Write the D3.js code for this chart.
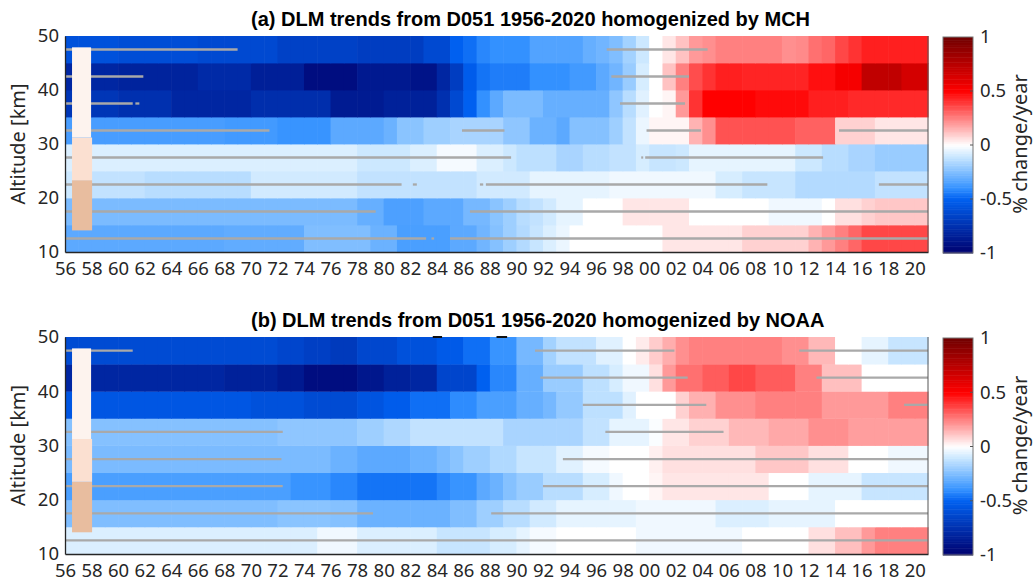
<!DOCTYPE html>
<html>
<head>
<meta charset="utf-8">
<title>DLM trends D051</title>
<script src="https://cdnjs.cloudflare.com/ajax/libs/d3/7.8.5/d3.min.js"></script>
<style>
    body { margin: 0; background: #fff; }
    text { font-family: 'Noto Sans', 'Open Sans', sans-serif; fill: #262626; }
    .title { font-family: 'Liberation Sans', Arial, sans-serif; font-weight: bold; fill: #000; }
</style>
</head>
<body>
<div id="chart"></div>
<script>
// years 1956..2020, one column per year
const years = d3.range(1956, 2021);
// layer centres in km (each layer is 5 km thick)
const layers = [12.5, 17.5, 22.5, 27.5, 32.5, 37.5, 42.5, 47.5];

// (a) homogenized by MCH, % change/year, one array per layer
const mch12 = [-0.32,-0.32,-0.32,-0.32,-0.32,-0.32,-0.32,-0.32,-0.32,-0.32,-0.32,-0.32,-0.31,-0.31,-0.31,-0.31,-0.31,-0.31,-0.25,-0.25,-0.25,-0.25,-0.25,-0.29,-0.29,-0.355,-0.355,-0.355,-0.355,-0.32,-0.32,-0.28,-0.24,-0.19,-0.15,-0.11,-0.07,-0.04,0,0,0,0,0,0,
    0,0.05,0.05,0.05,0.05,0.05,0.05,0.09,0.09,0.09,0.09,0.09,0.15,0.2,0.25,0.3,0.36,0.36,0.36,0.36,0.36];
const mch17 = [-0.26,-0.26,-0.26,-0.26,-0.26,-0.26,-0.26,-0.26,-0.26,-0.26,-0.26,-0.26,-0.26,-0.26,-0.26,-0.26,-0.26,-0.26,-0.26,-0.26,-0.26,-0.26,-0.3,-0.3,-0.35,-0.35,-0.35,-0.32,-0.32,-0.32,-0.27,-0.27,-0.23,-0.19,-0.14,-0.12,-0.09,-0.05,-0.05,0,0,0,0.05,0.05,
    0.05,0.05,0.05,0,0,0,0,0,0,-0.03,-0.03,-0.03,-0.03,0,0.06,0.06,0.09,0.11,0.11,0.11,0.11];
const mch22 = [-0.1,-0.1,-0.12,-0.12,-0.12,-0.12,-0.14,-0.14,-0.14,-0.14,-0.14,-0.14,-0.14,-0.14,-0.09,-0.09,-0.09,-0.09,-0.09,-0.09,-0.09,-0.09,-0.12,-0.12,-0.12,-0.12,-0.12,-0.12,-0.12,-0.12,-0.12,-0.09,-0.09,-0.09,-0.09,-0.05,-0.05,-0.05,-0.05,-0.05,-0.05,-0.03,-0.03,-0.03,
    -0.03,-0.03,-0.03,-0.03,-0.03,-0.08,-0.08,-0.11,-0.11,-0.11,-0.11,-0.15,-0.15,-0.15,-0.15,-0.15,-0.15,-0.12,-0.12,-0.12,-0.12];
const mch27 = [-0.07,-0.07,-0.07,-0.07,-0.07,-0.07,-0.07,-0.07,-0.07,-0.07,-0.07,-0.07,-0.07,-0.07,-0.07,-0.07,-0.07,-0.07,-0.07,-0.07,-0.07,-0.07,-0.1,-0.1,-0.1,-0.1,-0.07,-0.07,-0.02,-0.02,-0.02,-0.07,-0.07,-0.1,-0.13,-0.13,-0.13,-0.17,-0.17,-0.14,-0.14,-0.12,-0.12,-0.08,
    -0.11,-0.11,-0.1,-0.05,-0.05,-0.05,-0.05,-0.05,-0.05,-0.05,-0.05,-0.1,-0.1,-0.14,-0.14,-0.17,-0.17,-0.2,-0.2,-0.2,-0.2];
const mch32 = [-0.36,-0.36,-0.36,-0.36,-0.36,-0.36,-0.36,-0.36,-0.36,-0.36,-0.36,-0.36,-0.37,-0.37,-0.37,-0.37,-0.39,-0.39,-0.39,-0.39,-0.32,-0.32,-0.32,-0.32,-0.29,-0.23,-0.23,-0.19,-0.19,-0.17,-0.17,-0.17,-0.17,-0.22,-0.22,-0.29,-0.29,-0.32,-0.24,-0.24,-0.24,-0.19,-0.12,-0.04,
    0.02,0.02,0.02,0.15,0.22,0.34,0.34,0.34,0.34,0.34,0.34,0.31,0.31,0.31,0.09,0.09,0.09,0.05,0.05,0.05,0.05];
const mch37 = [-0.72,-0.72,-0.72,-0.72,-0.75,-0.75,-0.75,-0.75,-0.8,-0.8,-0.8,-0.8,-0.8,-0.8,-0.76,-0.76,-0.76,-0.76,-0.76,-0.76,-0.86,-0.86,-0.86,-0.86,-0.83,-0.83,-0.83,-0.83,-0.75,-0.62,-0.5,-0.4,-0.32,-0.26,-0.26,-0.26,-0.3,-0.3,-0.3,-0.3,-0.3,-0.22,-0.14,-0.06,
    0,0.02,0.2,0.4,0.5,0.5,0.5,0.5,0.48,0.48,0.48,0.48,0.44,0.44,0.44,0.42,0.42,0.42,0.42,0.42,0.42];
const mch42 = [-0.8,-0.8,-0.8,-0.8,-0.82,-0.82,-0.82,-0.82,-0.82,-0.82,-0.78,-0.78,-0.78,-0.78,-0.84,-0.84,-0.84,-0.84,-0.93,-0.93,-0.93,-0.93,-0.87,-0.87,-0.87,-0.87,-0.9,-0.9,-0.8,-0.68,-0.52,-0.46,-0.44,-0.44,-0.44,-0.4,-0.4,-0.4,-0.37,-0.37,-0.32,-0.28,-0.2,-0.08,
    0,0.12,0.25,0.35,0.4,0.44,0.44,0.43,0.43,0.43,0.43,0.43,0.47,0.47,0.53,0.53,0.72,0.72,0.72,0.65,0.65];
const mch47 = [-0.58,-0.58,-0.58,-0.58,-0.6,-0.6,-0.6,-0.6,-0.6,-0.6,-0.62,-0.62,-0.62,-0.62,-0.62,-0.62,-0.66,-0.66,-0.66,-0.66,-0.66,-0.66,-0.68,-0.68,-0.68,-0.68,-0.68,-0.62,-0.62,-0.5,-0.47,-0.42,-0.4,-0.4,-0.4,-0.34,-0.34,-0.34,-0.34,-0.3,-0.28,-0.25,-0.18,-0.1,
    0,0.05,0.12,0.2,0.22,0.25,0.25,0.25,0.25,0.25,0.22,0.23,0.28,0.3,0.36,0.4,0.44,0.44,0.44,0.44,0.44];

// (b) homogenized by NOAA
const noaa12 = [-0.07,-0.07,-0.07,-0.07,-0.07,-0.07,-0.07,-0.07,-0.07,-0.07,-0.07,-0.07,-0.07,-0.07,-0.07,-0.07,-0.07,-0.07,-0.07,-0.03,-0.03,-0.03,-0.07,-0.07,-0.07,-0.07,-0.07,-0.07,-0.11,-0.11,-0.11,-0.11,-0.08,-0.08,-0.05,-0.02,-0.02,0,0,0,0,0,0,-0.03,
    -0.03,-0.03,-0.03,-0.03,-0.03,-0.03,-0.03,0,0,0,0,0,0.06,0.06,0.125,0.125,0.2,0.25,0.25,0.25,0.25];
const noaa17 = [-0.25,-0.25,-0.25,-0.25,-0.25,-0.25,-0.25,-0.25,-0.25,-0.25,-0.25,-0.25,-0.25,-0.25,-0.25,-0.25,-0.23,-0.23,-0.23,-0.23,-0.24,-0.24,-0.29,-0.29,-0.29,-0.29,-0.29,-0.29,-0.29,-0.25,-0.25,-0.19,-0.19,-0.14,-0.14,-0.09,-0.09,-0.05,-0.05,-0.05,-0.05,-0.05,-0.05,-0.03,
    -0.03,-0.03,-0.03,-0.03,-0.03,-0.07,-0.07,-0.07,-0.07,-0.05,-0.05,-0.05,-0.05,-0.05,0,0,0,0,0,0,0];
const noaa22 = [-0.355,-0.355,-0.355,-0.355,-0.355,-0.355,-0.355,-0.355,-0.355,-0.355,-0.355,-0.355,-0.355,-0.355,-0.355,-0.355,-0.355,-0.39,-0.39,-0.39,-0.42,-0.42,-0.46,-0.46,-0.46,-0.46,-0.46,-0.46,-0.42,-0.39,-0.39,-0.32,-0.29,-0.24,-0.2,-0.2,-0.14,-0.14,-0.14,-0.08,-0.08,-0.03,0,0,
    0.02,0.05,0.05,0.05,0.05,0.05,0.05,0.05,0.05,0,0,0,-0.05,-0.05,-0.05,-0.05,-0.11,-0.11,-0.11,-0.11,-0.11];
const noaa27 = [-0.26,-0.26,-0.26,-0.26,-0.26,-0.26,-0.26,-0.26,-0.26,-0.26,-0.26,-0.26,-0.26,-0.26,-0.26,-0.26,-0.26,-0.26,-0.26,-0.26,-0.29,-0.29,-0.32,-0.32,-0.32,-0.32,-0.29,-0.29,-0.26,-0.23,-0.19,-0.19,-0.155,-0.155,-0.11,-0.11,-0.11,-0.06,-0.06,-0.02,-0.02,0,0,0,
    0.03,0.06,0.06,0.06,0.06,0.06,0.06,0.06,0.11,0.11,0.11,0.11,0.06,0.06,0.06,0,0,0,-0.03,-0.03,-0.03];
const noaa32 = [-0.24,-0.24,-0.24,-0.24,-0.24,-0.24,-0.24,-0.24,-0.24,-0.24,-0.24,-0.24,-0.24,-0.24,-0.24,-0.24,-0.22,-0.22,-0.22,-0.22,-0.22,-0.22,-0.19,-0.19,-0.16,-0.16,-0.12,-0.12,-0.12,-0.12,-0.12,-0.12,-0.12,-0.17,-0.17,-0.17,-0.17,-0.17,-0.17,-0.12,-0.12,-0.05,-0.05,-0.05,
    -0.01,0.05,0.05,0.09,0.09,0.09,0.14,0.14,0.14,0.17,0.17,0.17,0.22,0.22,0.22,0.19,0.19,0.19,0.19,0.19,0.19];
const noaa37 = [-0.55,-0.55,-0.55,-0.55,-0.55,-0.55,-0.55,-0.55,-0.55,-0.55,-0.55,-0.55,-0.55,-0.55,-0.58,-0.58,-0.58,-0.58,-0.61,-0.61,-0.61,-0.61,-0.56,-0.56,-0.52,-0.52,-0.47,-0.47,-0.47,-0.41,-0.41,-0.355,-0.355,-0.355,-0.3,-0.3,-0.27,-0.21,-0.21,-0.13,-0.13,-0.13,-0.06,0,
    0,0,0.09,0.155,0.155,0.22,0.22,0.22,0.25,0.25,0.25,0.25,0.25,0.2,0.2,0.2,0.2,0.2,0.25,0.25,0.25];
const noaa42 = [-0.8,-0.8,-0.8,-0.8,-0.8,-0.8,-0.8,-0.8,-0.8,-0.8,-0.8,-0.8,-0.83,-0.83,-0.83,-0.83,-0.87,-0.87,-0.93,-0.93,-0.93,-0.93,-0.88,-0.88,-0.83,-0.83,-0.8,-0.8,-0.64,-0.64,-0.64,-0.5,-0.42,-0.42,-0.3,-0.3,-0.2,-0.2,-0.2,-0.13,-0.13,-0.08,-0.03,-0.03,
    0.06,0.2,0.28,0.28,0.32,0.32,0.36,0.36,0.32,0.32,0.32,0.25,0.25,0.125,0.125,0.125,0,0,0,0,0];
const noaa47 = [-0.61,-0.61,-0.61,-0.61,-0.61,-0.61,-0.61,-0.61,-0.61,-0.61,-0.61,-0.61,-0.61,-0.61,-0.61,-0.61,-0.64,-0.64,-0.67,-0.67,-0.7,-0.7,-0.63,-0.63,-0.63,-0.58,-0.58,-0.58,-0.53,-0.53,-0.47,-0.47,-0.39,-0.39,-0.27,-0.27,-0.18,-0.12,-0.12,-0.12,-0.06,-0.06,0,0.04,
    0.1,0.16,0.22,0.25,0.25,0.25,0.25,0.25,0.25,0.25,0.22,0.22,0.14,0.14,0,0,-0.05,-0.05,-0.11,-0.11,-0.11];

// grey bars: spans (in years) drawn at each layer centre, bottom layer first
const mchSig = [
    [[1956, 1983.2], [1983.6, 1983.8], [1985.0, 2021]],
    [[1956, 1979.4], [1986.5, 2021]],
    [[1956, 1981.35], [1982.2, 1982.5], [1987.25, 1987.5], [1987.7, 2008.9], [2017.3, 2021]],
    [[1956, 1989.6], [1999.4, 1999.55], [1999.7, 2013.1]],
    [[1956, 1971.4], [1985.9, 1989.1], [1999.8, 2003.9], [2014.3, 2021]],
    [[1956, 1961.1], [1961.3, 1961.6], [1997.8, 2002.7]],
    [[1956, 1961.9], [1997.15, 2003.0]],
    [[1956, 1969.0], [1996.8, 2004.4]]
];
const noaaSig = [
    [[1956, 2021]],
    [[1956, 1979.2], [1988.1, 2021]],
    [[1956, 1972.4], [1992.0, 2021]],
    [[1956, 1972.3], [1993.5, 2021]],
    [[1956, 1972.4], [1996.7, 2005.6]],
    [[1995.0, 2004.3], [2019.2, 2021]],
    [[1991.8, 2002.9], [2012.6, 2021]],
    [[1956, 1961.1], [1991.4, 2001.9], [2011.3, 2021]]
];
// two short dark dashes on the top edge of panel (b), in years
const noaaTopMarks = [[1983.7, 1984.4], [1988.5, 1989.3]];

// shaded column at the left: altitude limits of its three parts
const bandYears = [1956.53, 1958.04];
const bandParts = [[14.0, 23.3], [23.3, 31.2], [31.2, 47.9]];
const bandColors = ['#e8bd9f', '#fbe0d1', '#fdf3ee'];

const xTicks = d3.range(1956, 2021, 2);
const yTicks = [10, 20, 30, 40, 50];
const cbTicks = [-1, -0.5, 0, 0.5, 1];

const width = 1033, height = 584;
const svg = d3.select('#chart').append('svg')
    .attr('width', width)
    .attr('height', height);

const x = d3.scaleLinear().domain([1956, 2021]).range([65, 928]);
// blue-white-red map, blues lean a little towards cyan when light
const color = d3.scaleLinear()
    .domain([-1, -0.5, -0.4, -0.25, -0.1, 0, 0.5, 1])
    .range(['#00006e', '#0060f0', '#3391ff', '#80beff', '#cce8ff', '#ffffff', '#ff0000', '#700000'])
    .clamp(true);

const panels = [
    { title: '(a) DLM trends from D051 1956-2020 homogenized by MCH', rows: [mch12, mch17, mch22, mch27, mch32, mch37, mch42, mch47], sig: mchSig, marks: [], top: 36, bottom: 252 },
    { title: '(b) DLM trends from D051 1956-2020 homogenized by NOAA', rows: [noaa12, noaa17, noaa22, noaa27, noaa32, noaa37, noaa42, noaa47], sig: noaaSig, marks: noaaTopMarks, top: 337, bottom: 554 }
];

panels.forEach(p => {
    const y = d3.scaleLinear().domain([10, 50]).range([p.bottom, p.top]);
    const g = svg.append('g');

    // heat map cells
    layers.forEach((alt, i) => {
        g.append('g').selectAll('rect')
            .data(p.rows[i])
            .join('rect')
            .attr('x', (d, j) => x(years[j]))
            .attr('width', (d, j) => x(years[j] + 1) - x(years[j]) + 0.6)
            .attr('y', y(alt + 2.5))
            .attr('height', y(alt - 2.5) - y(alt + 2.5) + 0.4)
            .attr('fill', d => color(d));
    });

    // grey spans
    layers.forEach((alt, i) => {
        g.append('g').selectAll('line')
            .data(p.sig[i])
            .join('line')
            .attr('x1', d => x(d[0]))
            .attr('x2', d => x(d[1]))
            .attr('y1', y(alt))
            .attr('y2', y(alt))
            .attr('stroke', '#a9a9a9')
            .attr('stroke-width', 2.3);
    });

    g.append('g').selectAll('line')
        .data(p.marks)
        .join('line')
        .attr('x1', d => x(d[0]))
        .attr('x2', d => x(d[1]))
        .attr('y1', p.top)
        .attr('y2', p.top)
        .attr('stroke', '#111')
        .attr('stroke-width', 2);

    // shaded column
    g.append('g').selectAll('rect')
        .data(bandParts)
        .join('rect')
        .attr('x', x(bandYears[0]))
        .attr('width', (d, i) => x(bandYears[1]) - x(bandYears[0]) - (i == 2 ? 1 : 0))
        .attr('y', d => y(d[1]))
        .attr('height', d => y(d[0]) - y(d[1]))
        .attr('fill', (d, i) => bandColors[i]);

    // axes
    const xAxis = g.append('g')
        .attr('transform', `translate(0,${p.bottom})`)
        .call(d3.axisBottom(x).tickValues(xTicks).tickSize(0).tickPadding(10)
            .tickFormat(d => String(d).slice(2)));
    const yAxis = g.append('g')
        .attr('transform', `translate(${x(1956)},0)`)
        .call(d3.axisLeft(y).tickValues(yTicks).tickSize(0).tickPadding(6));
    [xAxis, yAxis].forEach(a => {
        a.select('.domain').attr('stroke', '#262626').attr('stroke-width', 1.3);
        a.selectAll('text').style('font-size', '18.5px').attr('fill', '#262626');
    });
    g.append('line')
        .attr('x1', x(2021)).attr('x2', x(2021))
        .attr('y1', p.top).attr('y2', p.bottom)
        .attr('stroke', '#555').attr('stroke-width', 1);

    g.append('text')
        .attr('transform', `translate(24.5,${(p.top + p.bottom) / 2}) rotate(-90)`)
        .attr('text-anchor', 'middle')
        .style('font-size', '20px')
        .text('Altitude [km]');

    g.append('text')
        .attr('class', 'title')
        .attr('x', 251)
        .attr('y', p.top - 10)
        .style('font-size', '20px')
        .text(p.title);

    // colour bar
    const cy = d3.scaleLinear().domain([-1, 1]).range([p.bottom + 1, p.top + 1]);
    const steps = d3.range(-1, 1, 2 / 128);
    const cb = g.append('g');
    cb.selectAll('rect')
        .data(steps)
        .join('rect')
        .attr('x', 943)
        .attr('width', 30)
        .attr('y', d => cy(d + 2 / 128))
        .attr('height', d => cy(d) - cy(d + 2 / 128) + 0.5)
        .attr('fill', d => color(d + 1 / 128));
    cb.append('rect')
        .attr('x', 943).attr('y', cy(1))
        .attr('width', 30).attr('height', cy(-1) - cy(1))
        .attr('fill', 'none').attr('stroke', '#777').attr('stroke-width', 1);
    const cbAxis = cb.append('g')
        .attr('transform', 'translate(973,0)')
        .call(d3.axisRight(cy).tickValues(cbTicks).tickSize(0).tickPadding(7)
            .tickFormat(d => String(d)));
    cbAxis.select('.domain').remove();
    cbAxis.selectAll('text').style('font-size', '18.5px').attr('fill', '#262626');
    cb.selectAll('line.cbt')
        .data(cbTicks.slice(1, 4))
        .join('line')
        .attr('class', 'cbt')
        .attr('x1', 970).attr('x2', 973)
        .attr('y1', d => cy(d)).attr('y2', d => cy(d))
        .attr('stroke', '#555');
    cb.append('text')
        .attr('transform', `translate(1026.5,${(p.top + p.bottom) / 2}) rotate(-90)`)
        .attr('text-anchor', 'middle')
        .style('font-size', '20px')
        .text('% change/year');
});
</script>
</body>
</html>
